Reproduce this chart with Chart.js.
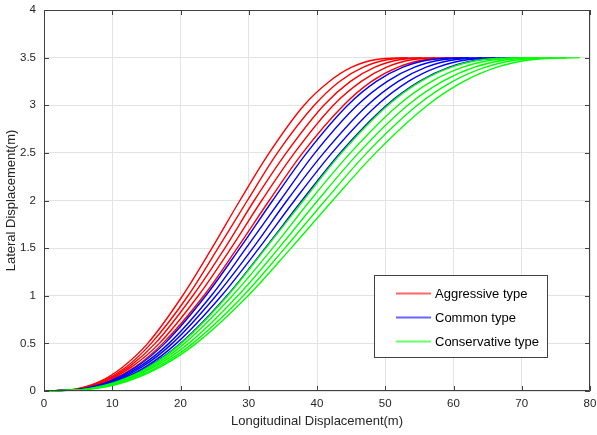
<!DOCTYPE html>
<html>
<head>
<meta charset="utf-8">
<script src="https://cdn.jsdelivr.net/npm/chart.js@4.4.1/dist/chart.umd.min.js"></script>
<style>
  html, body { margin: 0; padding: 0; background: #fff; }
  #wrap { width: 597px; height: 435px; position: relative; }
</style>
</head>
<body>
<div id="wrap"><canvas id="c"></canvas></div>
<script>
// ---- data ----
const xTicks = [0, 10, 20, 30, 40, 50, 60, 70, 80];
const xTickLabels = ['0', '10', '20', '30', '40', '50', '60', '70', '80'];
const yTicks = [0, 0.5, 1, 1.5, 2, 2.5, 3, 3.5, 4];
const yTickLabels = ['0', '0.5', '1', '1.5', '2', '2.5', '3', '3.5', '4'];
const xLabel = 'Longitudinal Displacement(m)';
const yLabel = 'Lateral Displacement(m)';
const seriesNames = ['Aggressive type', 'Common type', 'Conservative type'];
const seriesColors = ['#ff0000', '#0000ff', '#00ff00'];

// lateral levels at which each curve's longitudinal position was read
const yLevels = [0, 0.02, 0.1, 0.25, 0.5, 1, 1.5, 2, 2.5, 3, 3.25, 3.4, 3.48, 3.5];

// longitudinal positions (m) of each curve at the levels above
const aggressiveX = [
  [0, 4.6, 8.2, 11.5, 15.2, 20.3, 24.6, 28.7, 33.0, 38.1, 41.8, 45.1, 48.7, 53.3],
  [0, 4.8, 8.5, 12.0, 15.7, 21.1, 25.5, 29.8, 34.2, 39.6, 43.3, 46.8, 50.5, 55.3],
  [0, 5.0, 8.8, 12.4, 16.3, 21.8, 26.5, 30.8, 35.5, 41.0, 44.9, 48.5, 52.3, 57.3],
  [0, 5.2, 9.1, 12.8, 16.9, 22.6, 27.4, 31.9, 36.7, 42.4, 46.5, 50.2, 54.1, 59.3],
  [0, 5.3, 9.4, 13.3, 17.4, 23.4, 28.3, 33.0, 37.9, 43.9, 48.0, 51.9, 56.0, 61.3]
];
const commonX = [
  [0, 5.4, 9.6, 13.5, 17.7, 23.7, 28.7, 33.5, 38.5, 44.5, 48.7, 52.6, 56.8, 62.2],
  [0, 5.6, 9.9, 13.9, 18.3, 24.5, 29.6, 34.6, 39.7, 45.9, 50.3, 54.3, 58.6, 64.2],
  [0, 5.8, 10.2, 14.3, 18.8, 25.2, 30.6, 35.6, 41.0, 47.4, 51.9, 56.0, 60.4, 66.2],
  [0, 5.9, 10.5, 14.8, 19.4, 26.0, 31.5, 36.7, 42.2, 48.8, 53.4, 57.7, 62.3, 68.2],
  [0, 6.1, 10.8, 15.2, 20.0, 26.8, 32.4, 37.8, 43.4, 50.2, 55.0, 59.4, 64.1, 70.2]
];
const conservativeX = [
  [0, 6.1, 10.8, 15.3, 20.1, 26.9, 32.5, 38.0, 43.6, 50.4, 55.2, 59.7, 64.4, 70.5],
  [0, 6.3, 11.1, 15.7, 20.6, 27.6, 33.5, 39.0, 44.9, 51.9, 56.8, 61.4, 66.2, 72.5],
  [0, 6.5, 11.4, 16.1, 21.2, 28.4, 34.4, 40.1, 46.1, 53.3, 58.4, 63.1, 68.0, 74.5],
  [0, 6.7, 11.8, 16.6, 21.8, 29.2, 35.3, 41.2, 47.3, 54.7, 59.9, 64.7, 69.8, 76.5],
  [0, 6.8, 12.1, 17.0, 22.3, 29.9, 36.2, 42.3, 48.6, 56.2, 61.5, 66.4, 71.7, 78.5]
];

// ---- build datasets ----
const groups = [aggressiveX, commonX, conservativeX];
const datasets = [];
groups.forEach((grp, gi) => {
  grp.forEach((xs, ci) => {
    datasets.push({
      label: seriesNames[gi] + ' ' + (ci + 1),
      data: xs.map((x, k) => ({ x: x, y: yLevels[k] })),
      borderColor: seriesColors[gi],
      backgroundColor: seriesColors[gi],
      borderWidth: 1.4,
      pointRadius: 0,
      fill: false,
      cubicInterpolationMode: 'monotone',
      order: 10 - gi,
      clip: 2
    });
  });
});

const INK = '#262626';
const FRAME = '#404040';
const FONT = '"Liberation Sans", Arial, sans-serif';

const framePlugin = {
  id: 'frame',
  afterDatasetsDraw(chart) {
    const { ctx, chartArea: a, scales } = chart;
    ctx.save();
    ctx.strokeStyle = FRAME;
    ctx.lineWidth = 1;
    ctx.beginPath();
    ctx.rect(Math.round(a.left) + 0.5, Math.round(a.top) + 0.5,
             Math.round(a.right - a.left) - 1, Math.round(a.bottom - a.top) - 1);
    ctx.stroke();
    const tl = 5;
    ctx.beginPath();
    xTicks.forEach(v => {
      const px = Math.round(scales.x.getPixelForValue(v)) + 0.5;
      ctx.moveTo(px, a.bottom); ctx.lineTo(px, a.bottom - tl);
      ctx.moveTo(px, a.top); ctx.lineTo(px, a.top + tl);
    });
    yTicks.forEach(v => {
      const py = Math.round(scales.y.getPixelForValue(v)) + 0.5;
      ctx.moveTo(a.left, py); ctx.lineTo(a.left + tl, py);
      ctx.moveTo(a.right, py); ctx.lineTo(a.right - tl, py);
    });
    ctx.stroke();
    ctx.restore();
  },
  afterDraw(chart) {
    const { ctx } = chart;
    ctx.save();
    const bx = 374.5, by = 275.5, bw = 173, bh = 82;
    ctx.fillStyle = '#ffffff';
    ctx.fillRect(bx, by, bw, bh);
    ctx.strokeStyle = FRAME;
    ctx.lineWidth = 1;
    ctx.strokeRect(bx, by, bw, bh);
    ctx.font = '13px ' + FONT;
    ctx.textBaseline = 'middle';
    ctx.textAlign = 'left';
    const rows = [292.5, 316.5, 340.5];
    for (let i = 0; i < seriesNames.length; i++) {
      ctx.globalAlpha = 0.6;
      ctx.fillStyle = seriesColors[i];
      ctx.fillRect(396, rows[i], 35, 2);
      ctx.globalAlpha = 1;
      ctx.fillStyle = '#000000';
      ctx.fillText(seriesNames[i], 435, rows[i] + 1.5);
    }
    ctx.restore();
  }
};

new Chart(document.getElementById('c'), {
  type: 'line',
  data: { datasets },
  options: {
    responsive: true,
    maintainAspectRatio: false,
    animation: false,
    devicePixelRatio: 1,
    layout: { padding: { top: 10, right: 7, left: 0, bottom: 0 } },
    plugins: { legend: { display: false }, tooltip: { enabled: false } },
    scales: {
      x: {
        type: 'linear', min: 0, max: 80,
        afterFit(s) { s.height = 44; s.paddingLeft = 0; s.paddingRight = 0; },
        afterBuildTicks(s) { s.ticks = xTicks.map(v => ({ value: v })); },
        grid: { color: '#e3e3e3', drawTicks: false },
        border: { display: false },
        ticks: {
          padding: 6, color: INK, font: { family: FONT, size: 11.5 }, maxRotation: 0,
          callback: (v) => { const i = xTicks.indexOf(v); return i >= 0 ? xTickLabels[i] : ''; }
        },
        title: { display: true, text: xLabel, color: INK, padding: { top: 0, bottom: 6 },
                 font: { family: FONT, size: 13 } }
      },
      y: {
        type: 'linear', min: 0, max: 4,
        afterFit(s) { s.width = 44; s.paddingTop = 0; s.paddingBottom = 0; },
        afterBuildTicks(s) { s.ticks = yTicks.map(v => ({ value: v })); },
        grid: { color: '#e3e3e3', drawTicks: false },
        border: { display: false },
        ticks: {
          padding: 8, color: INK, font: { family: FONT, size: 11.5 },
          callback: (v) => { const i = yTicks.indexOf(v); return i >= 0 ? yTickLabels[i] : ''; }
        },
        title: { display: true, text: yLabel, color: INK, padding: { top: 4, bottom: 0 },
                 font: { family: FONT, size: 13 } }
      }
    }
  },
  plugins: [framePlugin]
});
</script>
</body>
</html>
